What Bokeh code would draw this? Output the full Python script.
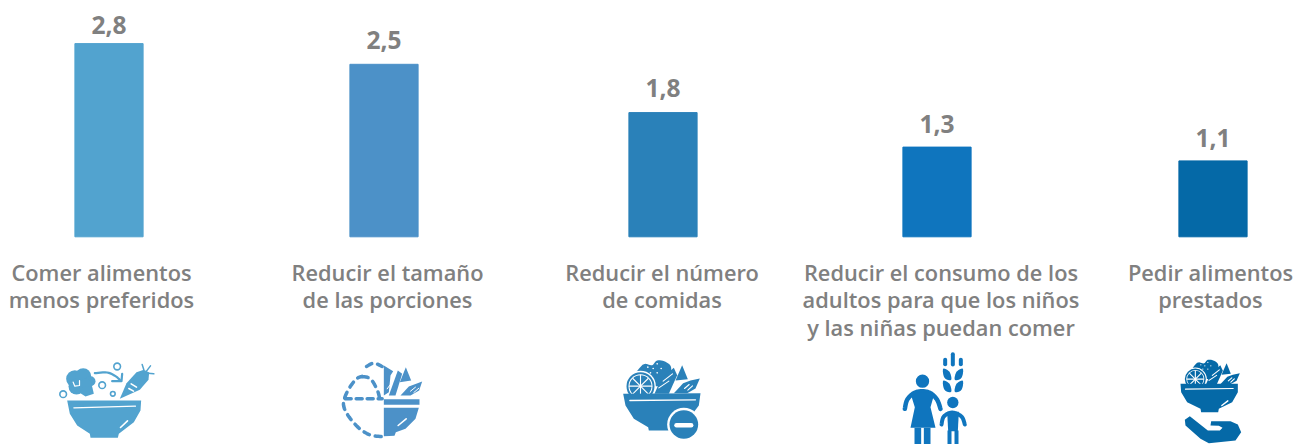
from bokeh.plotting import figure
from bokeh.models import Range1d, ColumnDataSource
from bokeh.core.properties import value
from bokeh.embed import file_html
from bokeh.resources import INLINE

categories = [
    ["Comer alimentos", "menos preferidos"],
    ["Reducir el tamaño", "de las porciones"],
    ["Reducir el número", "de comidas"],
    ["Reducir el consumo de los", "adultos para que los niños", "y las niñas puedan comer"],
    ["Pedir alimentos", "prestados"],
]
values = [2.8, 2.5, 1.8, 1.3, 1.1]
value_labels = ["2,8", "2,5", "1,8", "1,3", "1,1"]
colors = ["#52A3CF", "#4C91C8", "#2A81B9", "#0F75BE", "#0569A7"]
centers = [108.5, 383.5, 662.5, 936.5, 1212.5]
label_centers = [101, 387, 661.5, 940.5, 1210]
label_gaps = [-19, -24, -25, -23, -23]

W, H = 1294, 444
PX_PER_UNIT = 69.0
BASE = 236.3
GRAY = "#808080"
FONT = value("Open Sans")
FONT_SB = value("Open Sans SemiBold")

p = figure(width=W, height=H, output_backend="svg", toolbar_location=None,
           x_range=Range1d(0, W),
           y_range=Range1d((BASE - H) / PX_PER_UNIT, BASE / PX_PER_UNIT),
           min_border=0, outline_line_color=None,
           styles={"position": "absolute", "left": "0", "top": "0"})
p.axis.visible = False
p.grid.visible = False
p.extra_y_ranges["px"] = Range1d(H, 0)

src = ColumnDataSource(dict(x=centers, top=values, color=colors, label=value_labels, gap=label_gaps))
p.vbar(x="x", top="top", bottom=0, width=68.2, color="color", source=src)
p.text(x="x", y="top", text="label", source=src, text_font=FONT, text_font_style="bold",
       text_font_size="24.5px", text_color=GRAY, text_align="center",
       text_baseline="alphabetic", y_offset="gap")

for cx, lines in zip(label_centers, categories):
    for i, t in enumerate(lines):
        p.text([cx], [272 + i * 27.3], text=[t], y_range_name="px", text_font=FONT_SB,
               text_font_size="21.8px", text_color=GRAY,
               text_align="center", text_baseline="alphabetic")


# ---- pictograms: decorative drawing, coordinates are local to each icon (1/3 px) ----
def smooth(pts, closed=True, n=6):
    out = []
    m = len(pts)
    rng = range(m) if closed else range(m - 1)
    for i in rng:
        if closed:
            a, b, c, d = pts[(i - 1) % m], pts[i], pts[(i + 1) % m], pts[(i + 2) % m]
        else:
            a, b, c, d = pts[max(i - 1, 0)], pts[i], pts[i + 1], pts[min(i + 2, m - 1)]
        for k in range(n):
            t = k / n
            out.append(tuple(
                0.5 * (2 * b[j] + (c[j] - a[j]) * t + (2 * a[j] - 5 * b[j] + 4 * c[j] - d[j]) * t * t
                       + (3 * b[j] - a[j] - 3 * c[j] + d[j]) * t ** 3) for j in (0, 1)))
    if not closed:
        out.append(pts[-1])
    return out


class Icon:
    def __init__(self, ox, oy, color):
        self.ox, self.oy, self.c = ox, oy, color

    def _xy(self, pts):
        return [self.ox + a / 3 for a, _ in pts], [self.oy + b / 3 for _, b in pts]

    def poly(self, pts, color=None, soft=False):
        if soft:
            pts = smooth(pts)
        xs, ys = self._xy(pts)
        p.patch(xs, ys, y_range_name="px", fill_color=color or self.c, line_color=None)

    def line(self, pts, w=3, color=None, soft=False, dash=None):
        if soft:
            pts = smooth(pts, closed=False)
        xs, ys = self._xy(pts)
        kw = {"line_dash": dash} if dash else {}
        p.line(xs, ys, y_range_name="px", line_color=color or self.c, line_width=w,
               line_cap="round", line_join="round", **kw)

    def dot(self, cx, cy, r, color=None):
        p.circle([self.ox + cx / 3], [self.oy + cy / 3], radius=r / 3, y_range_name="px",
                 fill_color=color or self.c, line_color=None)

    def ring(self, cx, cy, r, w=1.6):
        p.circle([self.ox + cx / 3], [self.oy + cy / 3], radius=r / 3, y_range_name="px",
                 fill_color=None, line_color=self.c, line_width=w)


WHITE = "#FFFFFF"


def food(ic, dx, dy, s):
    """Salad: greens, citrus slice, leaf, fish."""
    T = lambda a, b: (dx + a * s, dy + b * s)
    ic.poly([T(*q) for q in [(38, 48), (52, 25), (65, 18), (85, 22), (100, 8), (125, 12), (142, 30), (132, 70), (95, 85), (70, 60)]], soft=True)
    for q in [(72, 28), (88, 32), (100, 18), (112, 32), (80, 45), (100, 45)]:
        a, b = T(*q)
        ic.dot(a, b, 2.5 * s, WHITE)
    a, b = T(50, 85)
    ic.dot(a, b, 46 * s, WHITE)
    ic.dot(a, b, 42 * s)
    ic.dot(a, b, 36 * s, WHITE)
    ic.dot(a, b, 33 * s)
    for q in [(50, 52), (50, 118), (17, 85), (83, 85), (27, 62), (73, 108), (27, 108), (73, 62)]:
        ic.line([(a, b), T(*q)], w=1.1, color=WHITE)
    ic.poly([T(*q) for q in [(92, 108), (112, 62), (150, 30), (160, 52), (135, 108)]])
    ic.line([T(105, 90), T(135, 70)], w=1.1, color=WHITE)
    ic.line([T(118, 70), T(146, 48)], w=1.1, color=WHITE)
    ic.poly([T(*q) for q in [(175, 22), (192, 64), (155, 68)]])
    ic.poly([T(*q) for q in [(150, 106), (178, 76), (200, 68), (228, 62), (215, 92), (190, 106)]])
    ic.line([T(182, 92), T(196, 80)], w=1.1, color=WHITE)
    ic.line([T(192, 97), T(206, 84)], w=1.1, color=WHITE)


# Icon 1
i1 = Icon(40, 350, colors[0])
i1.poly([(80, 150), (302, 150), (300, 180), (280, 215), (235, 250), (232, 262), (150, 262), (148, 250), (110, 225), (88, 190)])
i1.line([(100, 172), (285, 167)], w=1.2, color=WHITE)
i1.line([(240, 231), (261, 211)], w=1.6, color=WHITE)
for cx, cy, r in [(103, 85, 26), (128, 77, 24), (150, 92, 15), (108, 108, 24), (135, 105, 20)]:
    i1.dot(cx, cy, r)
i1.poly([(118, 110), (155, 108), (160, 130), (135, 138), (120, 128)])
i1.line([(98, 95), (103, 107), (117, 105), (117, 90)], w=1.2, color=WHITE)
for cx, cy, r in [(68, 131, 10), (230, 48, 10), (185, 104, 10), (217, 130, 7)]:
    i1.ring(cx, cy, r)
i1.line([(163, 68), (200, 66), (225, 77), (240, 90)], w=2.2, soft=True)
i1.line([(215, 92), (243, 92), (245, 70)], w=2.2)
i1.poly([(238, 145), (258, 98), (288, 65), (310, 58), (326, 66), (324, 88), (298, 118)])
i1.line([(272, 100), (288, 110)], w=1.6, color=WHITE)
i1.line([(265, 114), (279, 122)], w=1.6, color=WHITE)
i1.line([(310, 58), (305, 42)], w=1.5)
i1.line([(318, 62), (330, 46)], w=1.5)
i1.line([(322, 68), (340, 70)], w=1.5)

# Icon 2
i2 = Icon(320, 350, colors[1])
i2.line([(182, 258), (150, 254), (118, 235), (90, 205), (72, 175), (70, 150), (85, 115), (108, 85), (125, 78)],
        w=3.5, soft=True, dash="6 6")
i2.line([(125, 78), (150, 85), (170, 118), (178, 145)], w=3.5, soft=True, dash="6 6")
i2.line([(138, 48), (160, 38), (185, 48)], w=3.5, soft=True, dash="6 6")
i2.line([(74, 145), (185, 145)], w=3.5, dash="6 5")
i2.poly([(190, 146), (297, 146), (297, 163), (190, 163)])
i2.poly([(190, 172), (295, 172), (285, 205), (255, 235), (226, 245), (222, 256), (190, 257)])
i2.line([(233, 225), (257, 205)], w=1.6, color=WHITE)
i2.poly([(190, 45), (218, 62), (210, 75), (205, 125), (190, 135)])
i2.poly([(205, 135), (232, 60), (245, 70), (225, 135)])
i2.line([(200, 115), (215, 95)], w=1, color=WHITE)
i2.poly([(256, 50), (272, 90), (238, 95)])
i2.poly([(240, 135), (265, 108), (305, 93), (296, 120), (270, 135)])
i2.line([(270, 122), (285, 110)], w=1, color=WHITE)
i2.line([(280, 126), (295, 113)], w=1, color=WHITE)

# Icon 3
i3 = Icon(600, 350, colors[2])
food(i3, 70, 22, 1.0)
i3.poly([(68, 130), (300, 128), (295, 165), (265, 205), (215, 232), (210, 240), (145, 240), (143, 230), (100, 205), (75, 165)])
i3.line([(88, 150), (285, 148)], w=1.3, color=WHITE)
i3.dot(250, 222, 50, WHITE)
i3.dot(250, 222, 43)
i3.line([(228, 224), (272, 224)], w=4.5, color=WHITE)

# Icon 4
i4 = Icon(880, 350, colors[3])
i4.dot(126, 92, 20)
i4.line([(73, 175), (80, 148), (100, 128), (125, 122), (150, 128), (170, 148), (180, 175)], w=4.5, soft=True)
i4.poly([(98, 125), (152, 125), (160, 135), (150, 170), (165, 232), (90, 232), (103, 170), (92, 135)])
i4.poly([(102, 232), (122, 232), (122, 282), (102, 282)])
i4.poly([(130, 232), (150, 232), (150, 282), (130, 282)])
i4.dot(217, 156, 17)
i4.line([(183, 222), (190, 198), (215, 186), (243, 198), (253, 222)], w=4, soft=True)
i4.poly([(200, 184), (235, 184), (232, 242), (203, 242)])
i4.poly([(201, 240), (213, 240), (213, 282), (201, 282)])
i4.poly([(222, 240), (234, 240), (234, 282), (222, 282)])
i4.line([(217, 11), (217, 42)], w=4)
i4.line([(194, 28), (194, 41)], w=4)
i4.line([(241, 28), (241, 41)], w=4)
for yy in (0, 36):
    i4.poly([(188, 55 + yy), (207, 64 + yy), (212, 88 + yy), (192, 82 + yy)], soft=True)
    i4.poly([(247, 55 + yy), (228, 64 + yy), (223, 88 + yy), (243, 82 + yy)], soft=True)

# Icon 5
i5 = Icon(1150, 350, colors[4])
food(i5, 97, 22, 0.75)
i5.poly([(90, 100), (262, 100), (262, 125), (245, 155), (205, 175), (203, 185), (152, 185), (150, 175), (110, 155), (92, 125)])
i5.line([(105, 116), (248, 114)], w=1.2, color=WHITE)
i5.line([(214, 165), (232, 151)], w=1.4, color=WHITE)
i5.poly([(103, 208), (118, 197), (172, 240), (208, 240), (216, 232), (205, 226), (180, 225), (182, 212),
         (240, 212), (262, 222), (272, 245), (255, 270), (175, 278), (150, 265), (105, 225)])

open("out.html", "w").write(file_html(p, INLINE))
